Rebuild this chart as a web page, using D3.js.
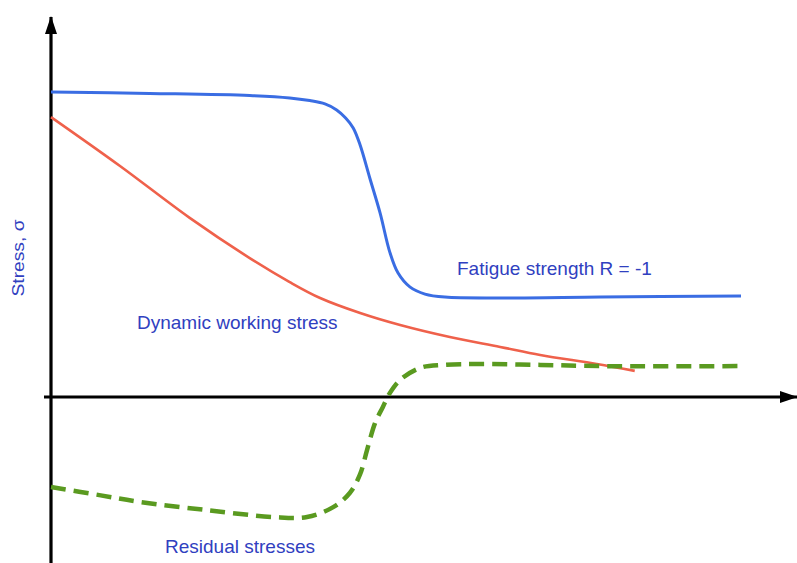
<!DOCTYPE html>
<html>
<head>
<meta charset="utf-8">
<script src="https://cdn.jsdelivr.net/npm/d3@7"></script>
<style>
  html, body { margin: 0; padding: 0; background: #fff; }
  svg { display: block; }
  text { font-family: "Liberation Sans", Arial, sans-serif; }
</style>
</head>
<body>
<div id="chart"></div>
<script>
// position along the member (0..100) and stress (arbitrary units)
const fatigueX = [0, 14.3, 28.8, 34.6, 37.5, 39.7, 41.4, 42.7, 43.8, 44.8, 46.2, 47.7, 49.1, 50.3, 52.0, 54.2, 57.1, 65.1, 79.6, 100];
const fatigueY = [10.17, 10.12, 10.05, 9.97, 9.88, 9.77, 9.57, 9.3, 8.97, 8.4, 7.3, 6.13, 4.83, 4.13, 3.67, 3.43, 3.33, 3.3, 3.33, 3.37];

const workingX = [0, 10.0, 20.1, 28.8, 34.6, 39.0, 44.8, 50.6, 57.8, 65.1, 70.9, 79.1, 84.6];
const workingY = [9.33, 7.7, 5.97, 4.63, 3.83, 3.3, 2.8, 2.4, 2.0, 1.67, 1.4, 1.1, 0.87];

const residualX = [0, 7.0, 12.9, 22.6, 32.2, 37.1, 40.9, 43.3, 44.8, 45.8, 46.96, 48.1, 49.1, 50.6, 53.5, 56.8, 62.2, 70.9, 79.6, 100];
const residualY = [-3.0, -3.27, -3.5, -3.77, -4.0, -4.0, -3.67, -3.2, -2.57, -1.77, -0.87, -0.33, 0.13, 0.57, 0.97, 1.07, 1.1, 1.07, 1.03, 1.03];

const labels = {
  yAxis: 'Stress, σ',
  fatigue: 'Fatigue strength R = -1',
  working: 'Dynamic working stress',
  residual: 'Residual stresses'
};

const width = 797, height = 563;

const svg = d3.select('#chart').append('svg')
  .attr('width', width)
  .attr('height', height);

const x = d3.scaleLinear().domain([0, 100]).range([51, 741]);
const y = d3.scaleLinear().domain([0, 10]).range([397, 97]);

const zip = (xs, ys) => xs.map((d, i) => [d, ys[i]]);
const line = d3.line()
  .x(d => x(d[0]))
  .y(d => y(d[1]))
  .curve(d3.curveCatmullRom.alpha(0.5));

// arrow heads
const defs = svg.append('defs');
defs.append('marker')
  .attr('id', 'arrow')
  .attr('viewBox', '0 0 18 12')
  .attr('refX', 17)
  .attr('refY', 6)
  .attr('markerWidth', 18)
  .attr('markerHeight', 12)
  .attr('markerUnits', 'userSpaceOnUse')
  .attr('orient', 'auto')
  .append('path')
  .attr('d', 'M0,0 L18,6 L0,12 Z')
  .attr('fill', '#000');

// axes
svg.append('line')
  .attr('x1', x(0)).attr('y1', height)
  .attr('x2', x(0)).attr('y2', 17)
  .attr('stroke', '#000')
  .attr('stroke-width', 3.2)
  .attr('marker-end', 'url(#arrow)');

svg.append('line')
  .attr('x1', 44).attr('y1', y(0))
  .attr('x2', 797).attr('y2', y(0))
  .attr('stroke', '#000')
  .attr('stroke-width', 3)
  .attr('marker-end', 'url(#arrow)');

// curves
svg.append('path')
  .datum(zip(workingX, workingY))
  .attr('d', line)
  .attr('fill', 'none')
  .attr('stroke', '#ef614b')
  .attr('stroke-width', 2.6);

svg.append('path')
  .datum(zip(fatigueX, fatigueY))
  .attr('d', line)
  .attr('fill', 'none')
  .attr('stroke', '#3a6de3')
  .attr('stroke-width', 3);

svg.append('path')
  .datum(zip(residualX, residualY))
  .attr('d', line)
  .attr('fill', 'none')
  .attr('stroke', '#5a9a20')
  .attr('stroke-width', 4.5)
  .attr('stroke-dasharray', '15,8');

// labels
const blue = '#3040c0';
svg.append('text')
  .attr('transform', 'translate(24,258) rotate(-90)')
  .attr('text-anchor', 'middle')
  .attr('fill', blue)
  .style('font-size', '16px')
  .attr('textLength', 77)
  .attr('lengthAdjust', 'spacingAndGlyphs')
  .text(labels.yAxis);

svg.append('text')
  .attr('x', 457).attr('y', 275)
  .attr('fill', blue)
  .style('font-size', '19px')
  .text(labels.fatigue);

svg.append('text')
  .attr('x', 137).attr('y', 329)
  .attr('fill', blue)
  .style('font-size', '19px')
  .text(labels.working);

svg.append('text')
  .attr('x', 165).attr('y', 553)
  .attr('fill', blue)
  .style('font-size', '19px')
  .text(labels.residual);
</script>
</body>
</html>
